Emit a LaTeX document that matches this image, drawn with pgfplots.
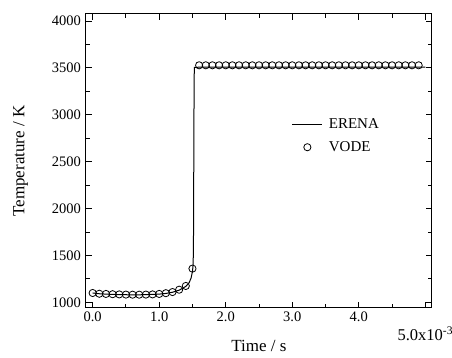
\documentclass[border=0pt]{standalone}
\usepackage{fontspec}
\setmainfont{Liberation Serif}
\usepackage{pgfplots}
\pgfplotsset{compat=1.18}
\begin{document}
\fontsize{14.5}{17}\selectfont
\begin{tikzpicture}
\useasboundingbox (-86pt,-50pt) rectangle (366pt,308pt);
\begin{axis}[
  at={(0,0)}, anchor=south west,
  scale only axis, width=346pt, height=294pt,
  clip=false,
  xmin=-0.1, xmax=5.1, ymin=940, ymax=4075,
  xtick={0,1,2,3,4,5}, xticklabels={0.0,1.0,2.0,3.0,4.0,{}},
  minor xtick={0.5,1.5,2.5,3.5,4.5},
  ytick={1000,1500,2000,2500,3000,3500,4000},
  minor ytick={1250,1750,2250,2750,3250,3750},
  tick align=inside, ticks=both,
  major tick length=6pt, minor tick length=4pt,
  tick style={black, line width=0.9pt},
  axis line style={line width=1pt},
  xtick pos=both, ytick pos=both,
  /pgf/number format/assume math mode=true,
  tick label style={font=\fontsize{14.5}{17}\selectfont},
  yticklabel style={/pgf/number format/.cd, set thousands separator={}, fixed},
  xticklabel style={yshift=1pt},
  xlabel={Time / s}, ylabel={Temperature / K},
  label style={font=\fontsize{17}{19}\selectfont},
  xlabel style={yshift=-8pt},
  ylabel style={yshift=14pt},
  legend style={draw=none, fill=none, at={(0.595,0.651)}, anchor=north west, font=\fontsize{15}{17}\selectfont, row sep=6.5pt, column sep=4pt, inner sep=0pt, outer sep=0pt},
  legend cell align=left,
]
\addplot[black, line width=1pt, no marks,
  legend image code/.code={\draw[black, line width=1pt] (0pt,0pt) -- (30pt,0pt);}] coordinates {
(0,1100)(0.1,1092)(0.2,1088)(0.4,1083)(0.6,1080)(0.8,1082)(1.0,1088)(1.1,1095)(1.2,1108)(1.3,1130)(1.4,1170)(1.45,1210)(1.48,1260)(1.5,1330)(1.51,1400)(1.515,1600)(1.52,2500)(1.525,3400)(1.53,3505)(1.6,3508)(5.0,3508)};
\addlegendentry{ERENA}
\addplot[only marks, mark=o, mark size=3.6pt, black, line width=0.8pt,
  legend image code/.code={\draw[black, line width=0.8pt] (15pt,0pt) circle (3.6pt);}] coordinates {
(0,1100)(0.1,1092)(0.2,1090)(0.3,1087)(0.4,1085)(0.5,1083)(0.6,1082)(0.7,1082)(0.8,1083)(0.9,1085)(1.0,1090)(1.1,1098)(1.2,1110)(1.3,1135)(1.4,1175)(1.5,1360)
(1.6,3528)(1.7,3528)(1.8,3528)(1.9,3528)(2.0,3528)(2.1,3528)(2.2,3528)(2.3,3528)(2.4,3528)(2.5,3528)(2.6,3528)(2.7,3528)(2.8,3528)(2.9,3528)(3.0,3528)(3.1,3528)(3.2,3528)(3.3,3528)(3.4,3528)(3.5,3528)(3.6,3528)(3.7,3528)(3.8,3528)(3.9,3528)(4.0,3528)(4.1,3528)(4.2,3528)(4.3,3528)(4.4,3528)(4.5,3528)(4.6,3528)(4.7,3528)(4.8,3528)(4.9,3528)};
\addlegendentry{VODE}
\node[anchor=base west, inner sep=0pt, font=\fontsize{16.5}{19}\selectfont] at (axis cs:4.58,590) {5.0x10\textsuperscript{-3}};
\end{axis}
\end{tikzpicture}
\end{document}
